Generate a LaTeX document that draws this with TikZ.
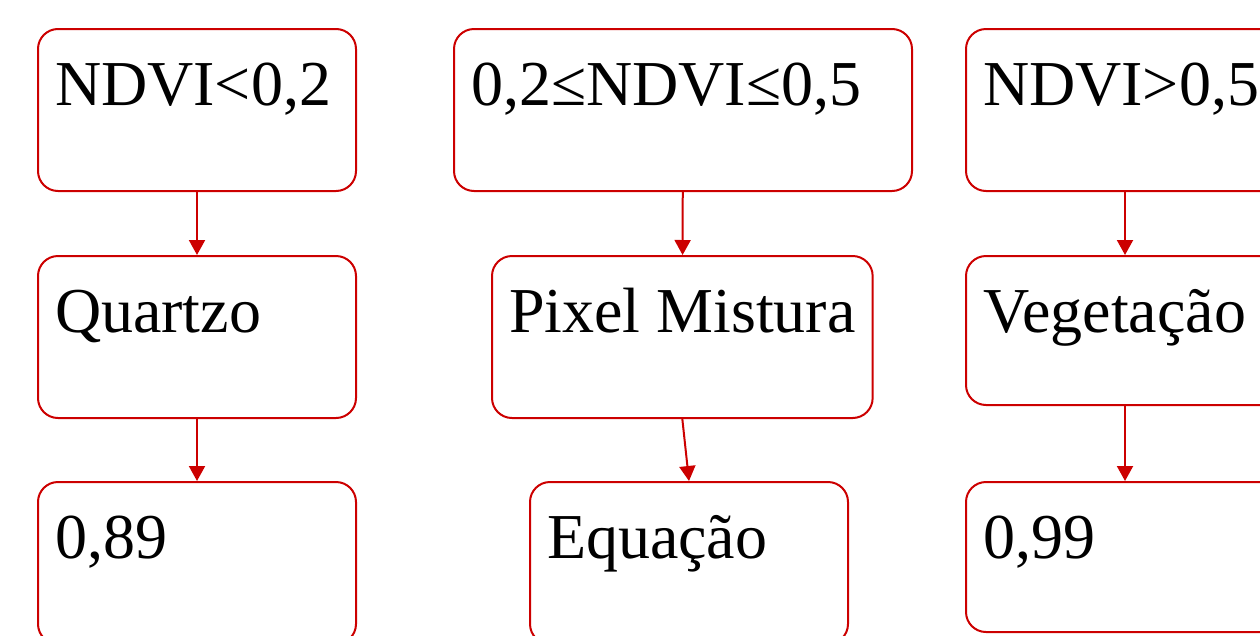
\documentclass[tikz,border=0pt]{standalone}
\usepackage{fontspec}
\setmainfont{Liberation Serif}
\usepackage{xcolor}
\usepackage{tikz}
\usetikzlibrary{arrows.meta,positioning,calc}
\definecolor{boxred}{RGB}{204,0,0}

\begin{document}
\begin{tikzpicture}[x=1pt,y=-1pt,>={Triangle[width=16pt,length=15pt]},
  bx/.style={draw=boxred,line width=2pt,rounded corners=20pt,anchor=north west,
    inner xsep=17pt,inner ysep=0pt,align=left,text height=76pt,text depth=86pt,
    font=\fontsize{64}{70}\selectfont},
  ar/.style={->,line width=2pt,boxred}]
\useasboundingbox (0,0) rectangle (1260,635);
\clip (0,0) rectangle (1260,635);
\node[bx,text width=284pt] (low) at (37,28) {NDVI<0,2};
\node[bx,text width=424pt] (mid) at (453,28) {0,2≤NDVI≤0,5};
\node[bx,text width=284pt] (high) at (965,28) {NDVI>0,5};
\node[bx,text width=284pt] (quartzo) at (37,255) {Quartzo};
\node[bx] (mistura) at (491,255) {Pixel Mistura};
\node[bx,text width=284pt,text depth=73pt] (veget) at (965,255) {Vegetação};
\node[bx,text width=284pt] (vq) at (37,481) {0,89};
\node[bx,text width=284pt] (eq) at (529,481) {Equação};
\node[bx,text width=284pt,text depth=74pt] (vv) at (965,481) {0,99};
\draw[ar] (low)--(quartzo); \draw[ar] (quartzo)--(vq);
\draw[ar] (mid)--(mistura); \draw[ar] (mistura.south)--(eq.north);
\draw[ar] (high)--(veget); \draw[ar] (veget)--(vv);
\end{tikzpicture}
\end{document}
